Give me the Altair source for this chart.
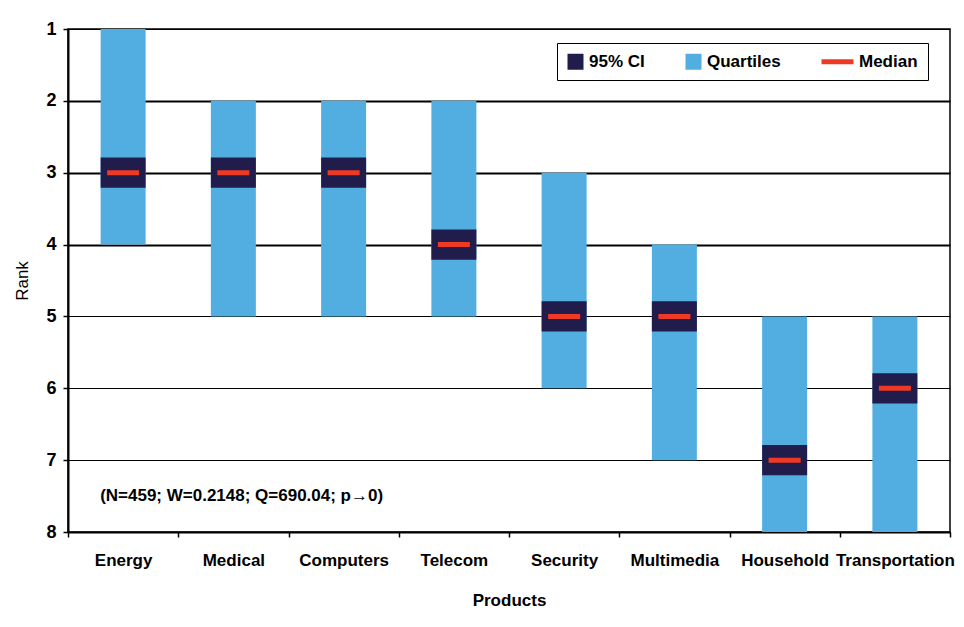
import altair as alt
import pandas as pd

products = ["Energy", "Medical", "Computers", "Telecom", "Security",
            "Multimedia", "Household", "Transportation"]
quart_low = [1, 2, 2, 2, 3, 4, 5, 5]
quart_high = [4, 5, 5, 5, 6, 7, 8, 8]
medians = [3, 3, 3, 4, 5, 5, 7, 6]
ci_low = [2.79, 2.79, 2.79, 3.79, 4.79, 4.79, 6.79, 5.79]
ci_high = [3.21, 3.21, 3.21, 4.21, 5.21, 5.21, 7.21, 6.21]
rank_ticks = [1, 2, 3, 4, 5, 6, 7, 8]
legend_items = ["95% CI", "Quartiles", "Median"]
legend_colors = ["#201C4B", "#52AEE0", "#EE3A24"]
legend_shapes = ["M-1,-1H1V1H-1Z", "M-1,-1H1V1H-1Z", "M-3,-0.3H1V0.3H-3Z"]
annotation = "(N=459; W=0.2148; Q=690.04; p\u21920)"

FONT = "Liberation Sans"

df = pd.DataFrame({
    "product": products,
    "q_low": quart_low,
    "q_high": quart_high,
    "median": medians,
    "ci_low": ci_low,
    "ci_high": ci_high,
})
leg_df = pd.DataFrame({"series": legend_items, "rank": [None, None, None]})
ann_df = pd.DataFrame({"label": [annotation]})

x_enc = alt.X(
    "product:N",
    sort=products,
    scale=alt.Scale(domain=products, paddingInner=0, paddingOuter=0),
    title="Products",
    axis=alt.Axis(
        labelAngle=0, labelOverlap=False, tickBand="extent",
        domainColor="black", domainWidth=2, tickColor="black", tickSize=5,
        tickWidth=1.5, labelFont=FONT, labelFontSize=17, labelFontWeight="bold",
        labelColor="black", labelPadding=15, titleFont=FONT, titleFontSize=17,
        titleFontWeight="bold", titleColor="black", titlePadding=24, grid=False,
    ),
)

y_scale = alt.Scale(domain=[1, 8], reverse=True, nice=False, zero=False)
y_axis = alt.Axis(
    values=rank_ticks, format="d", grid=True, gridColor="black",
    gridWidth=alt.condition("datum.value >= 2 && datum.value <= 4", alt.value(2), alt.value(1)),
    domainColor="black", domainWidth=2, tickColor="black", tickSize=5, tickWidth=1.5,
    labelFont=FONT, labelFontSize=18, labelFontWeight="bold", labelColor="black",
    labelPadding=7, titleFont=FONT, titleFontSize=17, titleFontWeight="normal",
    titleColor="black", titlePadding=14,
)


def yq(field):
    return alt.Y(f"{field}:Q", scale=y_scale, axis=y_axis, title="Rank")


quartiles = alt.Chart(df).mark_bar(size=45, color="#52AEE0", opacity=1).encode(
    x=x_enc, y=yq("q_low"), y2="q_high"
)
ci = alt.Chart(df).mark_bar(size=45, color="#201C4B", opacity=1).encode(
    x=x_enc, y=yq("ci_low"), y2="ci_high"
)
median = alt.Chart(df).mark_tick(thickness=5, size=32, color="#EE3A24", opacity=1).encode(
    x=x_enc, y=yq("median")
)
text = alt.Chart(ann_df).mark_text(
    align="left", baseline="middle", dx=-23, font=FONT, fontSize=17,
    fontWeight="bold", color="black"
).encode(
    x=alt.X(datum="Energy", type="nominal"), y=alt.Y(datum=7.5, type="quantitative"),
    text="label:N"
)

leg_props = dict(
    title=None, orient="none", legendX=489, legendY=14, direction="horizontal",
    strokeColor="black", fillColor="white", padding=10, symbolSize=256,
    symbolStrokeWidth=0, labelFont=FONT, labelFontSize=17, labelFontWeight="bold",
    labelColor="black", labelOffset=5, columnPadding=40,
)
legend_layer = alt.Chart(leg_df).mark_point(filled=True, opacity=1).encode(
    y=yq("rank"),
    color=alt.Color("series:N", scale=alt.Scale(domain=legend_items, range=legend_colors),
                    legend=alt.Legend(**leg_props)),
    shape=alt.Shape("series:N", scale=alt.Scale(domain=legend_items, range=legend_shapes),
                    legend=alt.Legend(**leg_props)),
)

chart = alt.layer(quartiles, ci, median, text, legend_layer).properties(
    width=882, height=503,
    autosize=alt.AutoSizeParams(type="none"),
    padding={"left": 60, "top": 21, "right": 6, "bottom": 82},
    background="white",
).configure_view(stroke="black", strokeWidth=1.5)

chart.save("out.html", embed_options={"renderer": "svg", "actions": False})
